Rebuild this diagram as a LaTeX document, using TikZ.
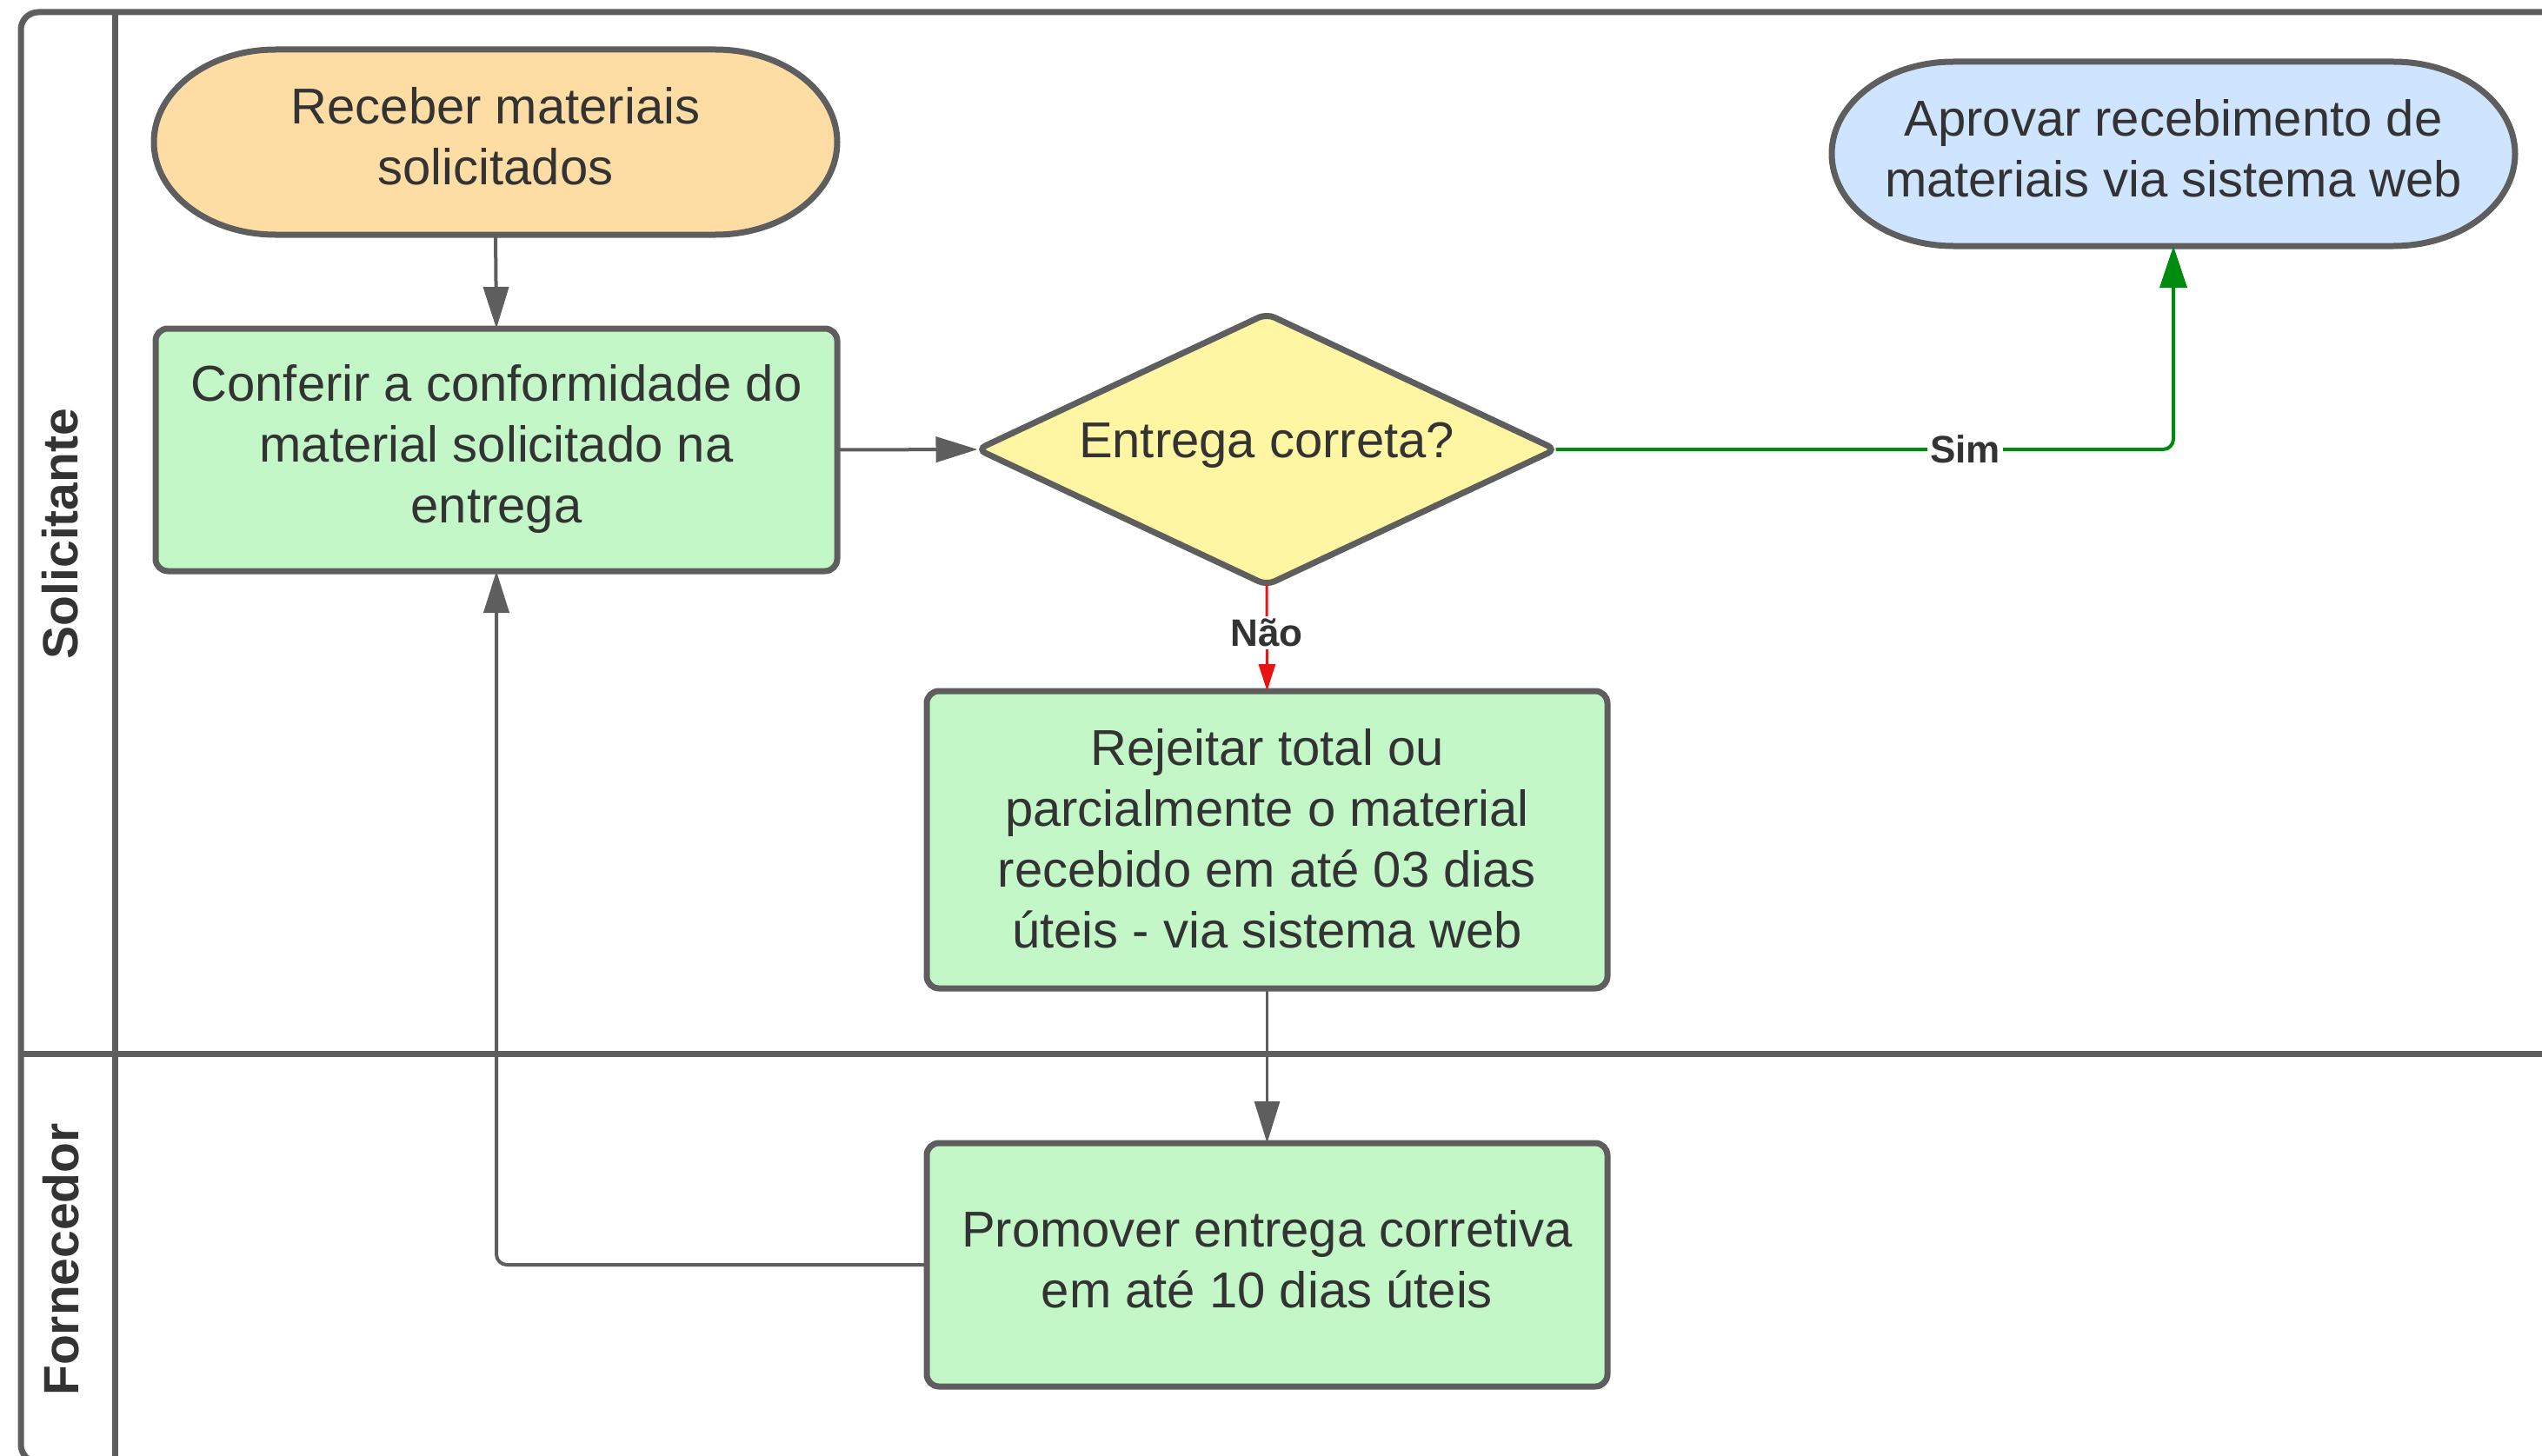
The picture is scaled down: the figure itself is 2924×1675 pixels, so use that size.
\documentclass[tikz,border=0pt]{standalone}
\usepackage{fontspec}
\setmainfont{Liberation Sans}
\usetikzlibrary{arrows.meta,shapes.geometric}
\definecolor{edgegray}{HTML}{5E5E5E}
\definecolor{txtgray}{HTML}{333333}
\definecolor{orangefill}{HTML}{FEDDA4}
\definecolor{greenfill}{HTML}{C3F7C8}
\definecolor{yellowfill}{HTML}{FFF6A3}
\definecolor{bluefill}{HTML}{CFE4FF}
\definecolor{yesgreen}{HTML}{008A0E}
\definecolor{nored}{HTML}{E81313}
\begin{document}
\begin{tikzpicture}[x=1pt,y=1pt,
  lane/.style={draw=edgegray, line width=7pt},
  shapeline/.style={draw=edgegray, line width=7pt},
  txt/.style={text=txtgray, font=\fontsize{58pt}{70pt}\selectfont, align=center, inner sep=0pt, outer sep=0pt},
  taskbox/.style={txt, shapeline, fill=greenfill, rounded corners=14pt, minimum width=783pt},
  lanelabel/.style={text=txtgray, font=\fontsize{57pt}{68pt}\selectfont\bfseries, rotate=90, inner sep=0pt},
  lbl/.style={text=txtgray, font=\fontsize{44pt}{52pt}\selectfont\bfseries, fill=white, inner sep=3pt},
  conn/.style={draw=edgegray, line width=4pt, -{Triangle[length=48pt,width=29pt]}},
  thinconn/.style={draw=edgegray, line width=3pt, -{Triangle[length=48pt,width=29pt]}},
  yesconn/.style={draw=yesgreen, line width=4pt, rounded corners=12pt, -{Triangle[length=48pt,width=31pt]}},
  noconn/.style={draw=nored, line width=3pt, -{Triangle[length=31pt,width=19pt]}}
]
\useasboundingbox (0,0) rectangle (2924,-1675);
% frame and lanes
\begin{scope}
\clip (0,0) rectangle (2924,-1675);
\draw[lane, rounded corners=20pt] (24,-14) rectangle (2970,-1682);
\draw[lane] (132,-14) -- (132,-1682);
\draw[lane] (24,-1212) -- (2970,-1212);
\end{scope}
\node[lanelabel] (lsol) at (69,-614) {Solicitante};
\node[lanelabel] (lforn) at (70,-1449) {Fornecedor};

% stadium shapes
\draw[shapeline, fill=orangefill] (317,-57) -- (823,-57)
  arc[start angle=90, end angle=-90, x radius=140pt, y radius=106.5pt]
  -- (317,-270)
  arc[start angle=270, end angle=90, x radius=140pt, y radius=106.5pt] -- cycle;
\draw[shapeline, fill=bluefill] (2247,-71) -- (2753,-71)
  arc[start angle=90, end angle=-90, x radius=140pt, y radius=106pt]
  -- (2247,-283)
  arc[start angle=270, end angle=90, x radius=140pt, y radius=106pt] -- cycle;

% nodes
\node[txt, minimum width=786pt, minimum height=213pt] (receber) at (570,-163.5)
  {\strut Receber materiais\\solicitados\strut};
\node[txt, minimum width=786pt, minimum height=212pt] (aprovar) at (2500,-177)
  {\strut Aprovar recebimento de\\materiais via sistema web\strut};
\node[taskbox, minimum width=784pt, minimum height=279pt] (conferir) at (571,-517.5)
  {\strut Conferir a conformidade do\\material solicitado na\\entrega\strut};
\node[txt, shapeline, fill=yellowfill, diamond, aspect=2.13, minimum width=665pt, minimum height=312pt, rounded corners=10pt] (decisao) at (1457,-517)
  {\rule[-29pt]{0pt}{77pt}Entrega correta?};
\node[taskbox, minimum height=342pt] (rejeitar) at (1457.5,-966)
  {\rule[-21pt]{0pt}{80pt}Rejeitar total ou\\parcialmente o material\\recebido em até 03 dias\\úteis - via sistema web\strut};
\node[taskbox, minimum height=280pt] (promover) at (1457.5,-1455)
  {\strut Promover entrega corretiva\\em até 10 dias úteis\strut};

% connectors
\draw[conn] (receber.south) -- (conferir.north);
\draw[conn] (conferir.east) -- (decisao.west);
\draw[yesconn] (decisao.east) -- node[lbl, pos=0.663] (sim) {Sim} (aprovar.south |- decisao.east) -- (aprovar.south);
\draw[noconn] (decisao.south) -- node[lbl, pos=0.45] (nao) {Não} (rejeitar.north);
\draw[thinconn] (rejeitar.south) -- (promover.north);
\draw[conn, rounded corners=12pt] (promover.west) -- (conferir.south |- promover.west) -- (conferir.south);
\end{tikzpicture}
\end{document}
